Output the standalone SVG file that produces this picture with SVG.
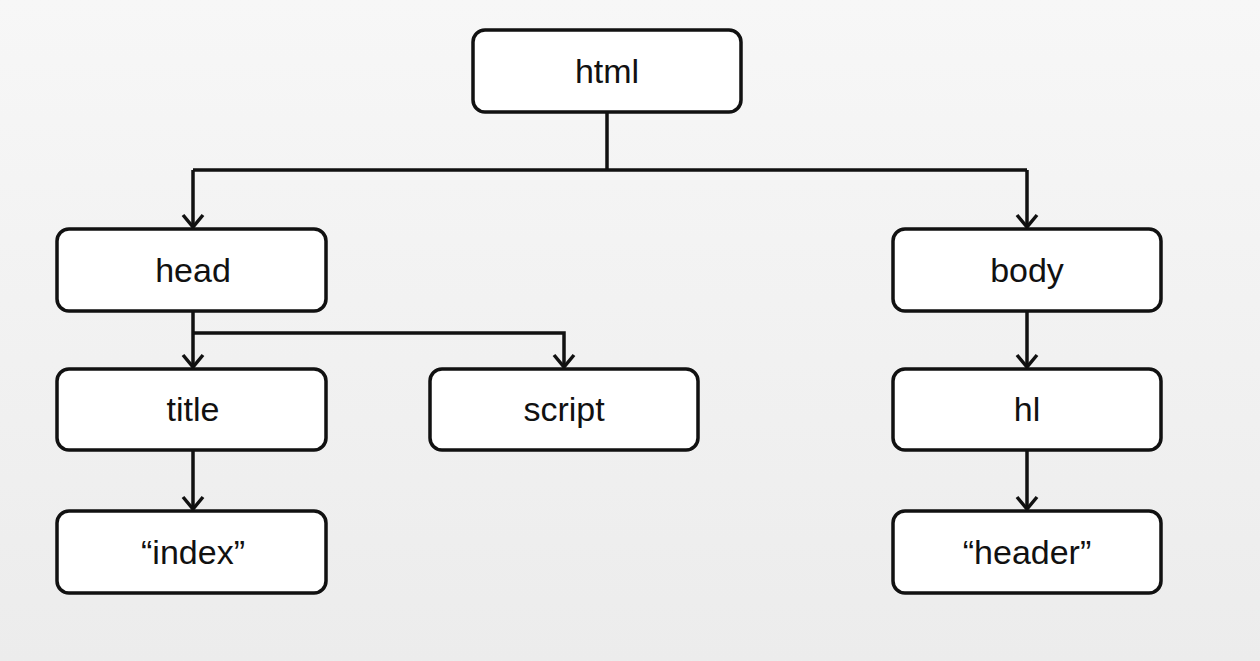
<svg xmlns="http://www.w3.org/2000/svg" width="1260" height="661" viewBox="0 0 1260 661">
<defs>
<marker id="arr" viewBox="0 0 20 24" refX="18" refY="12" markerWidth="20" markerHeight="24" markerUnits="userSpaceOnUse" orient="auto">
<path d="M6 2 L18 12 L6 22" fill="none" stroke="#111" stroke-width="3.5"/>
</marker>
<linearGradient id="bg" x1="0" y1="0" x2="0" y2="1"><stop offset="0" stop-color="#f7f7f7"/><stop offset="1" stop-color="#ececec"/></linearGradient>
</defs>
<style>
.box{fill:#fff;stroke:#111;stroke-width:3.5}
.t{font-family:"Liberation Sans",Arial,sans-serif;font-size:34px;fill:#111;text-anchor:middle;dominant-baseline:central}
.c{fill:none;stroke:#111;stroke-width:3.5}
</style>
<rect width="1260" height="661" fill="url(#bg)"/>
<g id="connectors">
<path class="c" d="M607 112 V170"/>
<path class="c" d="M193 170 H1027"/>
<path class="c" d="M193 170 V227" marker-end="url(#arr)"/>
<path class="c" d="M1027 170 V227" marker-end="url(#arr)"/>
<path class="c" d="M193 311 V367" marker-end="url(#arr)"/>
<path class="c" d="M193 333 H564 V367" marker-end="url(#arr)"/>
<path class="c" d="M193 450 V509" marker-end="url(#arr)"/>
<path class="c" d="M1027 311 V367" marker-end="url(#arr)"/>
<path class="c" d="M1027 450 V509" marker-end="url(#arr)"/>
</g>
<g id="html"><rect class="box" x="473" y="30" width="268" height="82" rx="12"/><text class="t" x="607" y="71">html</text></g>
<g id="head"><rect class="box" x="57" y="229" width="269" height="82" rx="12"/><text class="t" x="193" y="270">head</text></g>
<g id="body"><rect class="box" x="893" y="229" width="268" height="82" rx="12"/><text class="t" x="1027" y="270">body</text></g>
<g id="title"><rect class="box" x="57" y="369" width="269" height="81" rx="12"/><text class="t" x="193" y="409">title</text></g>
<g id="script"><rect class="box" x="430" y="369" width="268" height="81" rx="12"/><text class="t" x="564" y="409">script</text></g>
<g id="h1"><rect class="box" x="893" y="369" width="268" height="81" rx="12"/><text class="t" x="1027" y="409">hl</text></g>
<g id="index"><rect class="box" x="57" y="511" width="269" height="82" rx="12"/><text class="t" x="193" y="552">“index”</text></g>
<g id="header"><rect class="box" x="893" y="511" width="268" height="82" rx="12"/><text class="t" x="1027" y="552">“header”</text></g>
</svg>
